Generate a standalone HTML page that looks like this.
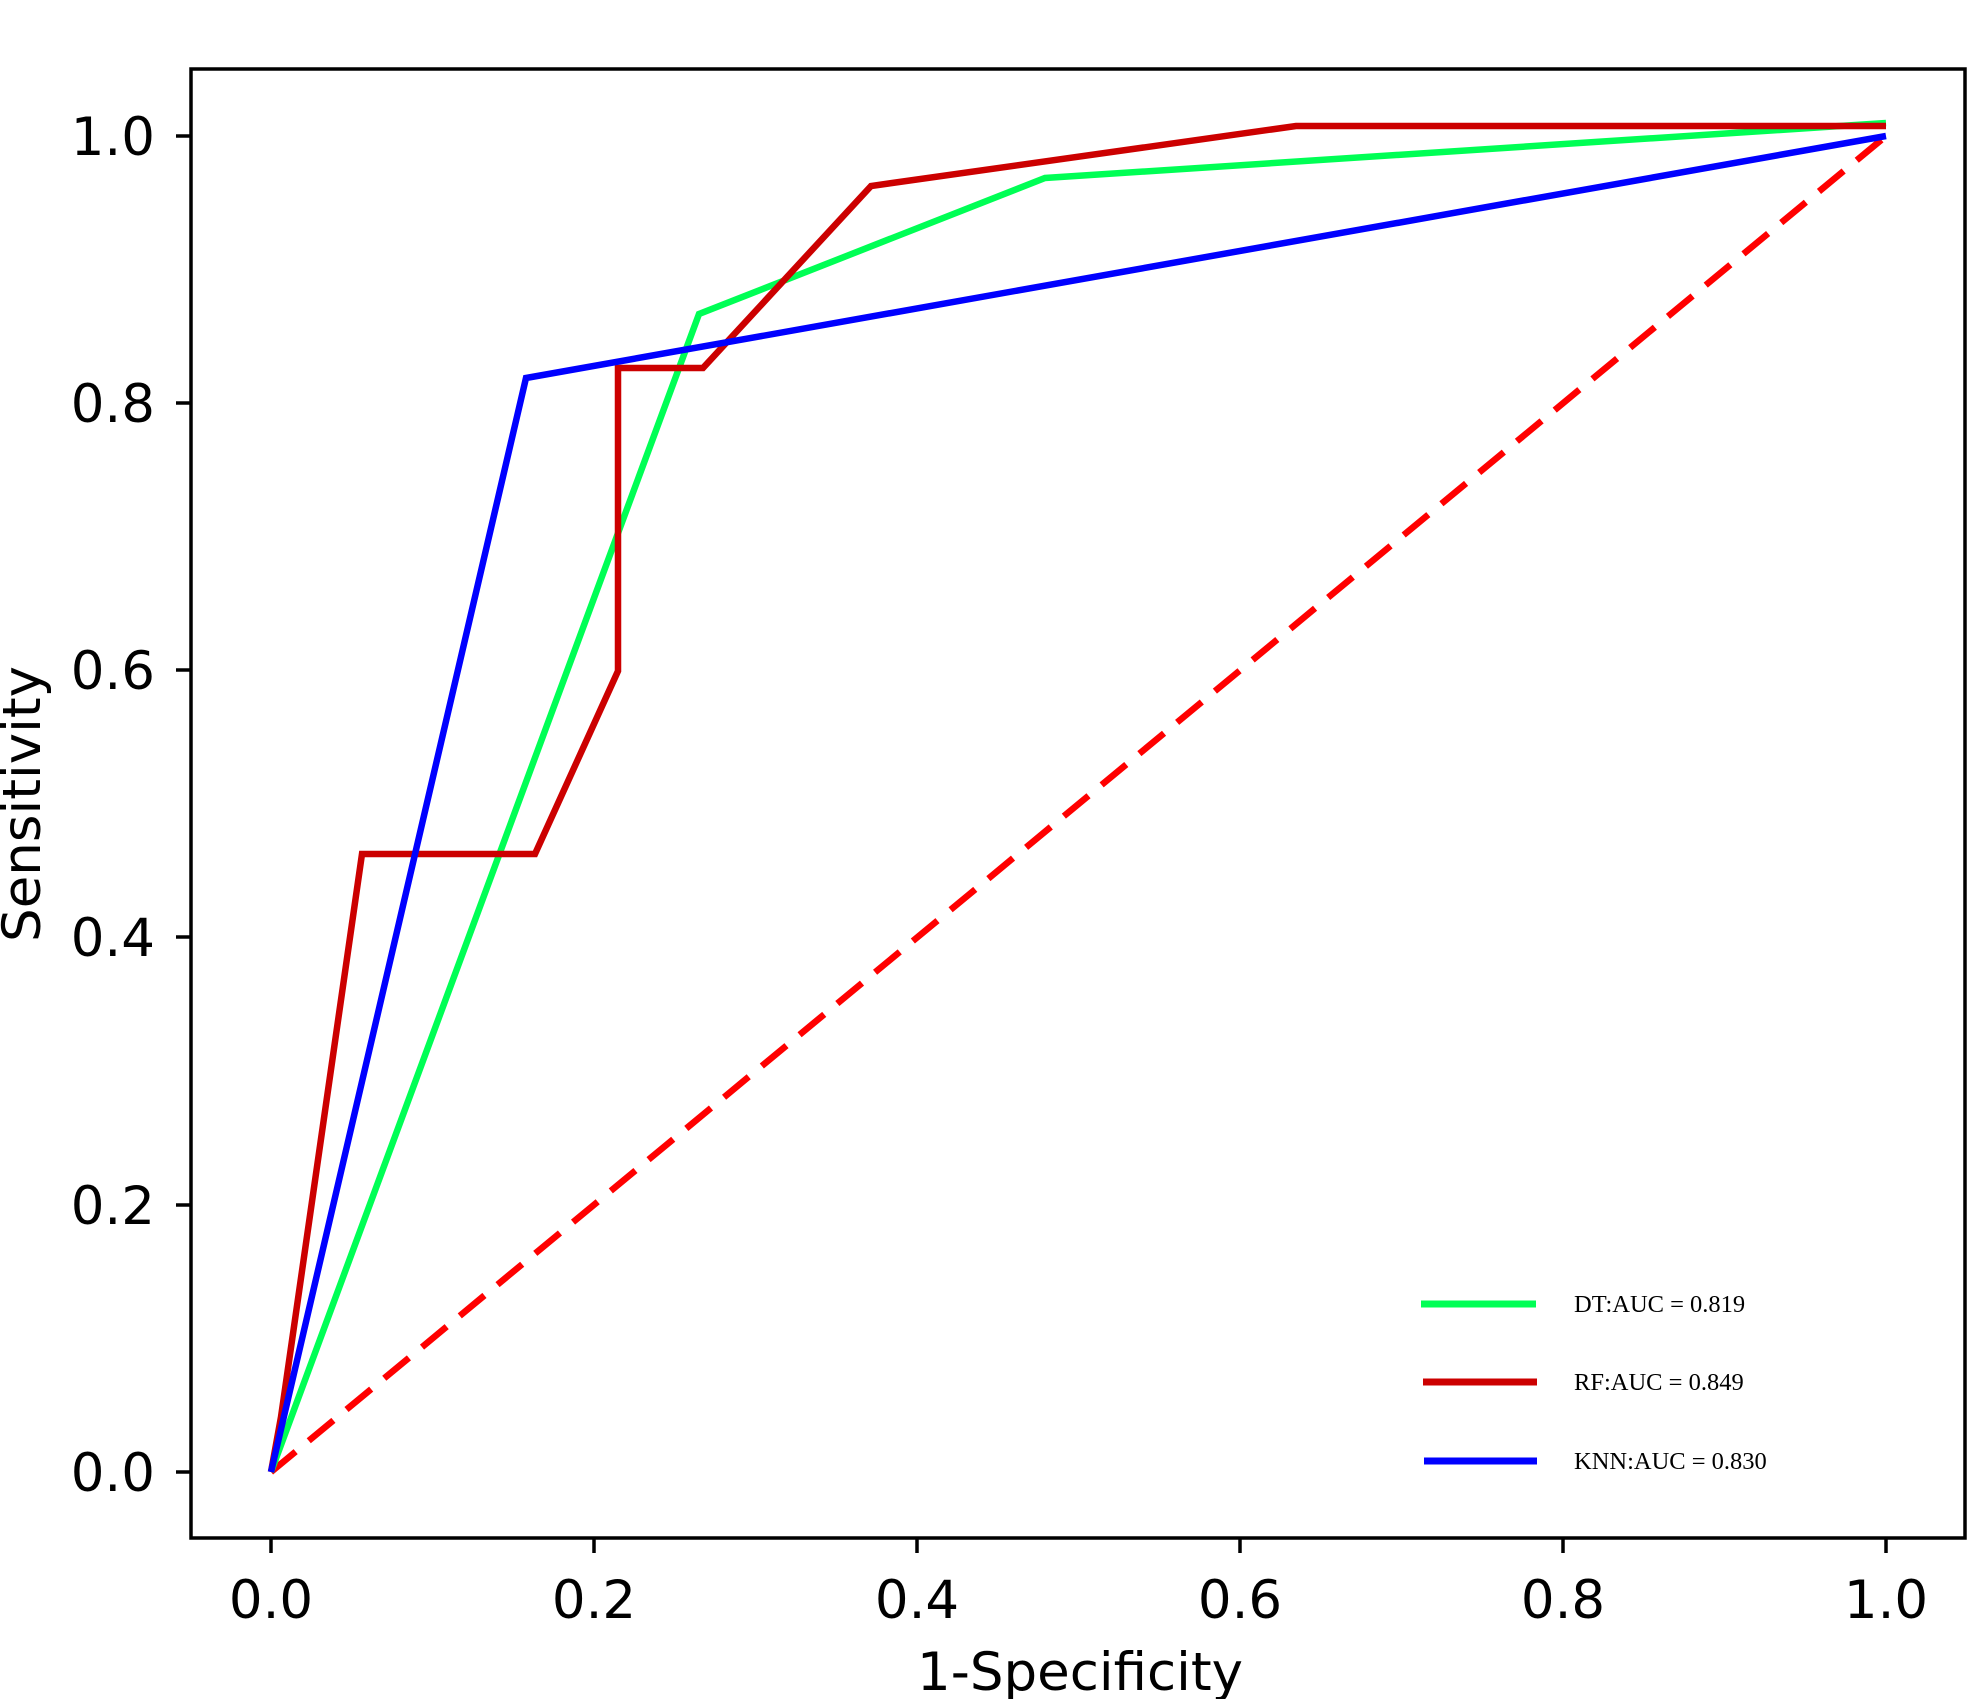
<!DOCTYPE html>
<html><head><meta charset="utf-8"><style>body{margin:0;background:#fff}svg{display:block}</style></head>
<body>
<svg width="1969" height="1699" viewBox="0 0 1969 1699" xmlns="http://www.w3.org/2000/svg">
<rect width="1969" height="1699" fill="#fff"/>
<g fill="none" stroke-linejoin="miter" stroke-width="6.5">
<polyline points="271,1472 1886,136" stroke="#ff0000" stroke-dasharray="32,17"/>
<polyline points="271,1472 699,314 1045,178 1886,123" stroke="#00ff55"/>
<polyline points="271,1472 281,1417 362,854 535,854 618,671 618,368 703,368 871,186 1296,126 1886,126" stroke="#cc0000"/>
<polyline points="271,1472 526,378 1886,136" stroke="#0000ff"/>
</g>
<rect x="191" y="69" width="1774" height="1469" fill="none" stroke="#000" stroke-width="3.5"/>
<g stroke="#000" stroke-width="3.5">
<line x1="271" y1="1538" x2="271" y2="1553"/><line x1="594" y1="1538" x2="594" y2="1553"/><line x1="917" y1="1538" x2="917" y2="1553"/><line x1="1240" y1="1538" x2="1240" y2="1553"/><line x1="1563" y1="1538" x2="1563" y2="1553"/><line x1="1886" y1="1538" x2="1886" y2="1553"/>
<line x1="176" y1="1472" x2="191" y2="1472"/><line x1="176" y1="1205" x2="191" y2="1205"/><line x1="176" y1="937" x2="191" y2="937"/><line x1="176" y1="670" x2="191" y2="670"/><line x1="176" y1="403" x2="191" y2="403"/><line x1="176" y1="136" x2="191" y2="136"/>
</g>
<g font-family="DejaVu Sans, sans-serif" font-size="53" fill="#000">
<g text-anchor="middle">
<text x="271" y="1618">0.0</text><text x="594" y="1618">0.2</text><text x="917" y="1618">0.4</text><text x="1240" y="1618">0.6</text><text x="1563" y="1618">0.8</text><text x="1886" y="1618">1.0</text>
<text x="1080" y="1690">1-Specificity</text>
<text transform="translate(40,804) rotate(-90)">Sensitivity</text>
</g>
<g text-anchor="end">
<text x="155" y="1491">0.0</text><text x="155" y="1224">0.2</text><text x="155" y="956">0.4</text><text x="155" y="689">0.6</text><text x="155" y="422">0.8</text><text x="155" y="155">1.0</text>
</g>
</g>
<g stroke-width="7">
<line x1="1421" y1="1304" x2="1536" y2="1304" stroke="#00ff55"/>
<line x1="1423" y1="1382" x2="1537" y2="1382" stroke="#cc0000"/>
<line x1="1424" y1="1461" x2="1537" y2="1461" stroke="#0000ff"/>
</g>
<g font-family="Liberation Serif, serif" font-size="24.5" fill="#000">
<text x="1574" y="1312">DT:AUC = 0.819</text>
<text x="1574" y="1390">RF:AUC = 0.849</text>
<text x="1574" y="1469">KNN:AUC = 0.830</text>
</g>
</svg>
</body></html>
